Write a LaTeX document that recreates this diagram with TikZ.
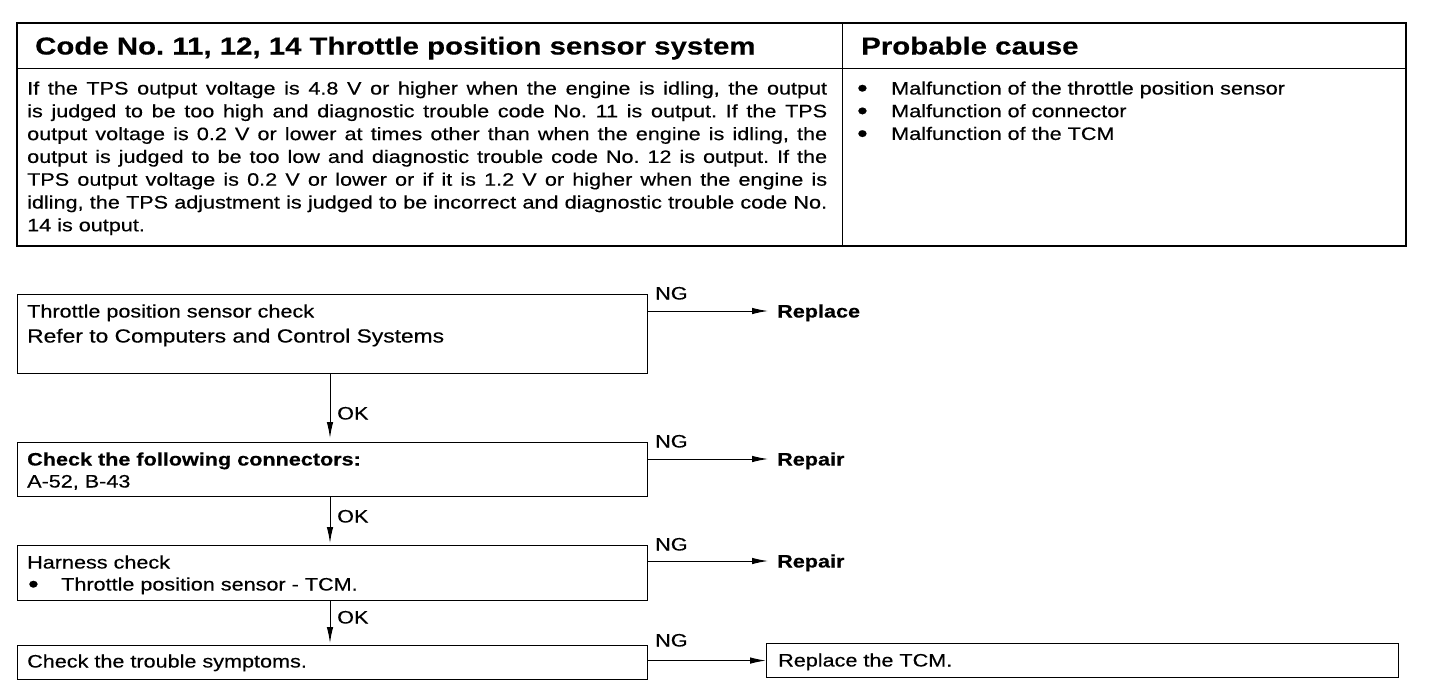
\documentclass[tikz,border=0pt]{standalone}
\usepackage{fontspec}
\setmainfont{Liberation Sans}[FakeStretch=1.2,FakeBold=0.4]
\usetikzlibrary{arrows.meta,calc}
\frenchspacing
\newcommand{\bigbullet}{\smash{\raisebox{-2pt}{\fontsize{25}{25}\selectfont\textbullet}}}
\begin{document}
\begin{tikzpicture}[x=1pt,y=-1pt,
  every node/.style={inner sep=0pt, font=\fontsize{18}{22}\selectfont},
  lbl/.style={anchor=west, text height=13pt, text depth=0pt},
  bold/.style={font=\fontsize{18}{22}\bfseries\selectfont},
  head/.style={anchor=west, text height=19pt, text depth=0pt, font=\fontsize{24.5}{30}\bfseries\selectfont},
  box/.style={draw, line width=1.1pt, anchor=north west},
  arr/.style={-{Latex[length=16pt,width=6.5pt]}, line width=1pt, shorten >=#1},
  arr/.default=0pt
]
\useasboundingbox (0,0) rectangle (1456,694);
% table
\draw[line width=2.6pt] (17,23) rectangle (1406,246);
\draw[line width=1pt] (17,68) -- (1406,68);
\draw[line width=1pt] (842,23) -- (842,246);
\node[head] (title) at (35,45) {Code No. 11, 12, 14\hspace{8pt}Throttle position sensor system};
\node[head] (pc) at (861,45) {Probable cause};
\node[anchor=base west, text width=800pt, align=justify, font=\fontsize{18}{22.8}\selectfont] (desc) at (27,94.5)
 {If the TPS output voltage is 4.8 V or higher when the engine is idling, the output\linebreak
  is judged to be too high and diagnostic trouble code No. 11 is output. If the TPS\linebreak
  output voltage is 0.2 V or lower at times other than when the engine is idling, the\linebreak
  output is judged to be too low and diagnostic trouble code No. 12 is output. If the\linebreak
  TPS output voltage is 0.2 V or lower or if it is 1.2 V or higher when the engine is\linebreak
  idling, the TPS adjustment is judged to be incorrect and diagnostic trouble code No.\linebreak
  14 is output.};
\node[anchor=base west, text width=530pt, align=left, font=\fontsize{18}{22.7}\selectfont] (causes) at (857,94.5)
 {\makebox[34pt][l]{\bigbullet}Malfunction of the throttle position sensor\\
  \makebox[34pt][l]{\bigbullet}Malfunction of connector\\
  \makebox[34pt][l]{\bigbullet}Malfunction of the TCM};
% flowchart boxes
\node[box, minimum width=630pt, minimum height=79pt] (b1) at (17,294) {};
\node[box, minimum width=630pt, minimum height=54pt] (b2) at (17,442) {};
\node[box, minimum width=630pt, minimum height=55pt] (b3) at (17,545) {};
\node[box, minimum width=630pt, minimum height=34pt] (b4) at (17,645) {};
\node[box, minimum width=632pt, minimum height=34pt] (b5) at (766,643) {};
% box texts
\node[lbl] (t11) at (27,311) {Throttle position sensor check};
\node[lbl, font=\fontsize{19}{22}\selectfont] (t12) at (27,336) {Refer to Computers and Control Systems};
\node[lbl, bold] (t21) at (27,459) {Check the following connectors:};
\node[lbl] (t22) at (27,481) {A-52, B-43};
\node[lbl] (t31) at (27,562) {Harness check};
\node[lbl] (t32) at (27,584) {\makebox[34pt][l]{\hspace{1pt}\bigbullet}Throttle position sensor - TCM.};
\node[lbl] (t41) at (27,661) {Check the trouble symptoms.};
\node[lbl] (t51) at (778,660) {Replace the TCM.};
% results
\node[lbl, bold] (r1) at (777,311) {Replace};
\node[lbl, bold] (r2) at (777,459) {Repair};
\node[lbl, bold] (r3) at (777,561) {Repair};
% NG labels
\node[lbl] (ng1) at (655,293) {NG};
\node[lbl] (ng2) at (655,441) {NG};
\node[lbl] (ng3) at (655,544) {NG};
\node[lbl] (ng4) at (655,640) {NG};
% OK labels
\node[lbl] (ok1) at (337,413) {OK};
\node[lbl] (ok2) at (337,516) {OK};
\node[lbl] (ok3) at (337,617) {OK};
% connectors
\draw[arr=9pt] (b1.east |- r1.west) -- (r1.west);
\draw[arr=9pt] (b2.east |- r2.west) -- (r2.west);
\draw[arr=9pt] (b3.east |- r3.west) -- (r3.west);
\draw[arr] (b4.east |- b5.west) -- (b5.west);
\draw[arr=4pt] ($(b1.south west)+(313,0)$) -- ($(b2.north west)+(313,0)$);
\draw[arr=2pt] ($(b2.south west)+(313,0)$) -- ($(b3.north west)+(313,0)$);
\draw[arr=2pt] ($(b3.south west)+(313,0)$) -- ($(b4.north west)+(313,0)$);
\end{tikzpicture}
\end{document}
